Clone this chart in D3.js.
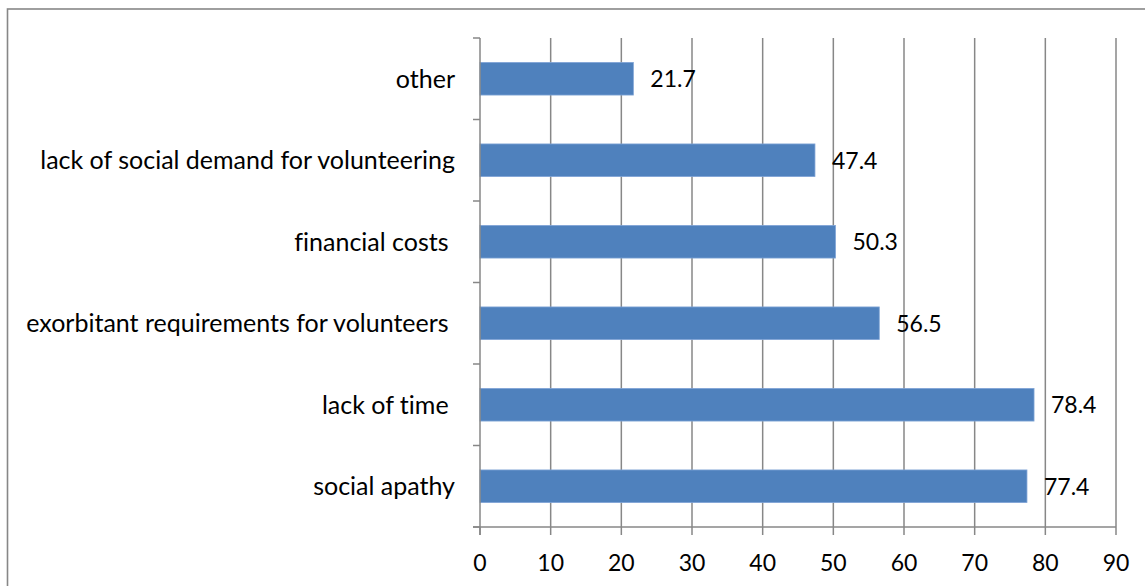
<!DOCTYPE html>
<html>
<head>
<meta charset="utf-8">
<script src="https://cdn.jsdelivr.net/npm/d3@7"></script>
<style>
  html, body { margin: 0; padding: 0; background: #fff; }
  svg { display: block; }
  text { font-family: Lato, "Open Sans", sans-serif; fill: #000; white-space: pre; font-variant-ligatures: none; }
</style>
</head>
<body>
<svg id="chart" width="1145" height="586"></svg>
<script>
// Reasons that hinder volunteering, % of responses
const categories = ["other", "lack of social demand for volunteering", "financial costs ",
  "exorbitant requirements for volunteers ", "lack of time ", "social apathy"];
const values = [21.7, 47.4, 50.3, 56.5, 78.4, 77.4];
const xTicks = [0, 10, 20, 30, 40, 50, 60, 70, 80, 90];

const svg = d3.select("#chart");
const W = 1145, H = 586;
const m = { left: 480, right: 29, top: 38, bottom: 59 };

// outer chart frame
svg.append("rect")
  .attr("x", 7.5).attr("y", 9).attr("width", W + 20).attr("height", H + 20)
  .attr("fill", "none").attr("stroke", "#878787").attr("stroke-width", 1.6);

const x = d3.scaleLinear().domain([0, 90]).range([m.left, W - m.right]);
const y = d3.scaleBand().domain(categories).range([m.top, H - m.bottom]).paddingInner(0.6).paddingOuter(0.3);
const band = (H - m.bottom - m.top) / categories.length;

const gridColor = "#878787";

// vertical gridlines
svg.append("g").selectAll("line").data(xTicks.slice(1)).join("line")
  .attr("x1", d => x(d)).attr("x2", d => x(d))
  .attr("y1", m.top).attr("y2", H - m.bottom)
  .attr("stroke", gridColor).attr("stroke-width", 1.5);

// bars
svg.append("g").selectAll("rect").data(values).join("rect")
  .attr("x", x(0))
  .attr("y", (d, i) => y(categories[i]))
  .attr("width", d => x(d) - x(0))
  .attr("height", y.bandwidth())
  .attr("fill", "#4F81BD")
  .attr("stroke", "#7FA4D6").attr("stroke-width", 0.8);

// category axis with ticks between bands
const yAxis = svg.append("g");
yAxis.append("line")
  .attr("x1", x(0)).attr("x2", x(0)).attr("y1", m.top).attr("y2", H - m.bottom + 8)
  .attr("stroke", gridColor).attr("stroke-width", 1.5);
yAxis.selectAll("line.tk").data(d3.range(categories.length + 1)).join("line")
  .attr("class", "tk")
  .attr("x1", x(0) - 7).attr("x2", x(0))
  .attr("y1", i => m.top + i * band).attr("y2", i => m.top + i * band)
  .attr("stroke", gridColor).attr("stroke-width", 1.5);

// value axis
const xAxis = svg.append("g");
xAxis.append("line")
  .attr("x1", x(0) - 7).attr("x2", x(90)).attr("y1", H - m.bottom).attr("y2", H - m.bottom)
  .attr("stroke", gridColor).attr("stroke-width", 1.5);
xAxis.selectAll("line.tk").data(xTicks).join("line")
  .attr("class", "tk")
  .attr("x1", d => x(d)).attr("x2", d => x(d))
  .attr("y1", H - m.bottom).attr("y2", H - m.bottom + 8)
  .attr("stroke", gridColor).attr("stroke-width", 1.5);

xAxis.selectAll("text").data(xTicks).join("text")
  .attr("x", d => x(d)).attr("y", H - m.bottom + 44)
  .attr("text-anchor", "middle")
  .style("font-size", "23px")
  .text(d => d);

// category labels
svg.append("g").selectAll("text").data(categories).join("text")
  .attr("x", 455)
  .attr("y", d => y(d) + y.bandwidth() / 2)
  .attr("dy", "0.35em")
  .attr("text-anchor", "end")
  .style("font-size", "25px")
  .text(d => d);

// value labels
svg.append("g").selectAll("text").data(values).join("text")
  .attr("x", d => x(d) + 17)
  .attr("y", (d, i) => y(categories[i]) + y.bandwidth() / 2)
  .attr("dy", "0.36em")
  .style("font-size", "23px")
  .text(d => d.toFixed(1));
</script>
</body>
</html>
